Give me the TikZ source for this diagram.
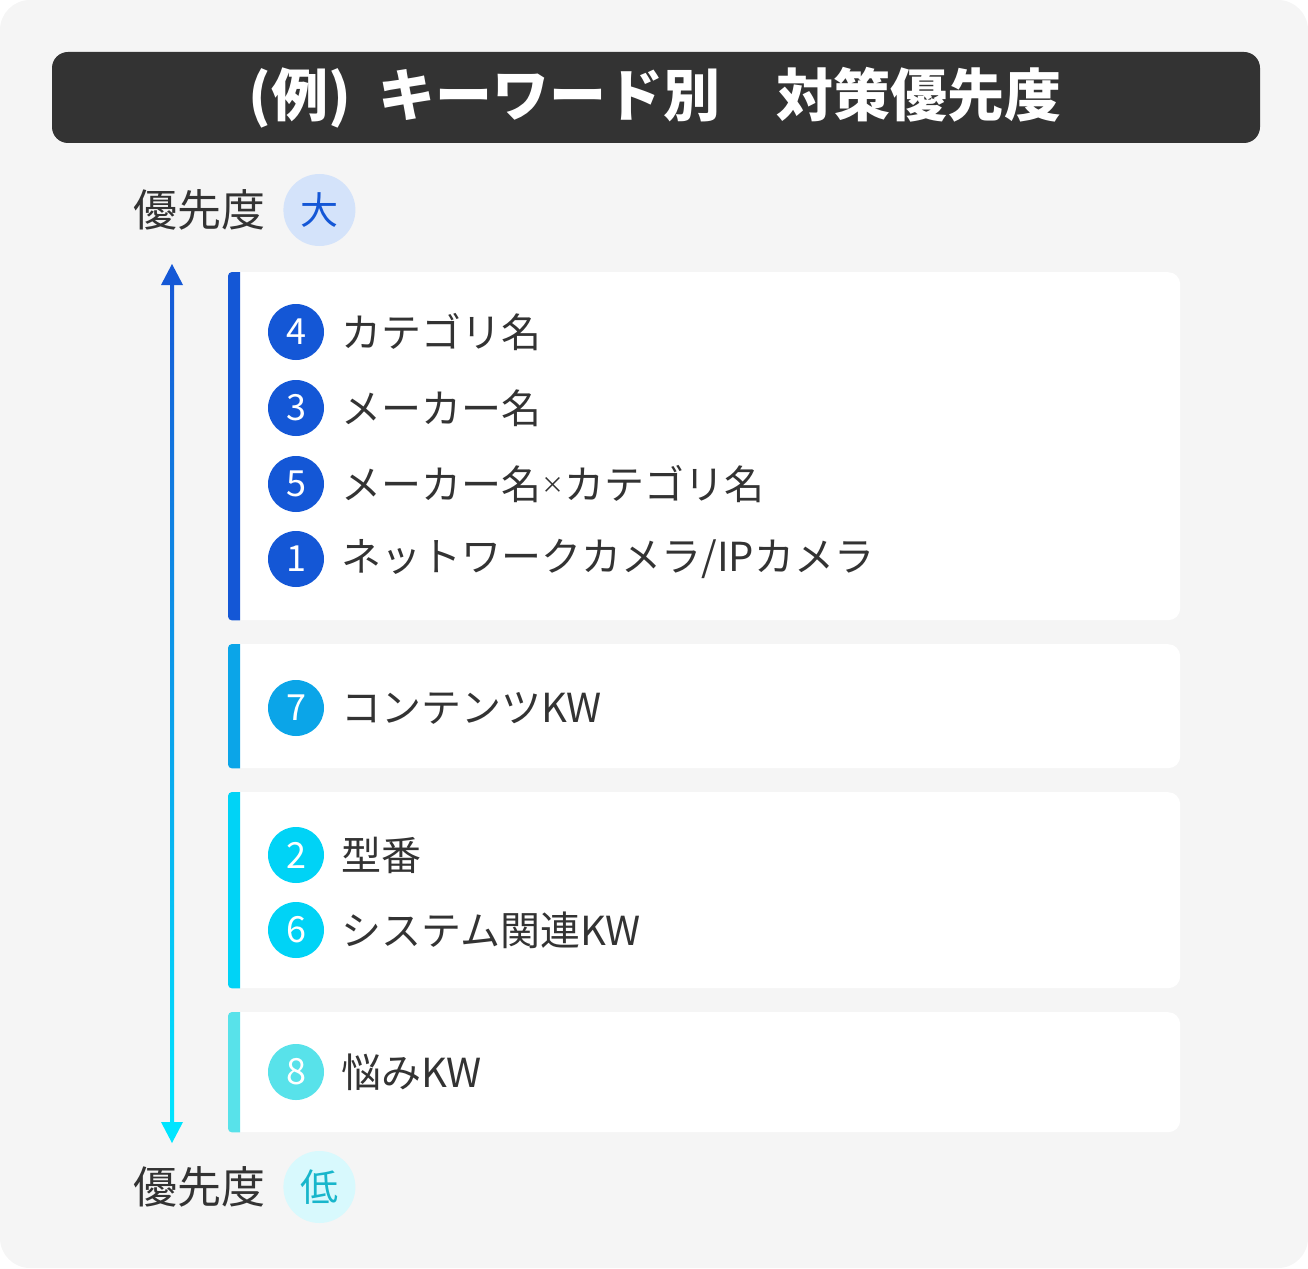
\documentclass[tikz,border=0pt]{standalone}
\usepackage{fontspec}
\setmainfont{Noto Sans CJK JP}
\usetikzlibrary{positioning}
\definecolor{ink}{HTML}{333333}
\definecolor{paper}{HTML}{F5F5F5}
\definecolor{kwblue}{HTML}{1457D6}
\definecolor{kwsky}{HTML}{0BA5E8}
\definecolor{kwcyan}{HTML}{00D3F6}
\definecolor{kwaqua}{HTML}{58E2EA}
\definecolor{arrowtop}{HTML}{1558D6}
\definecolor{arrowbot}{HTML}{00E5FF}
\definecolor{bigfill}{HTML}{D4E3FA}
\definecolor{lowfill}{HTML}{D8F9FD}
\definecolor{lowtext}{HTML}{18B6CB}

\begin{document}
\begin{tikzpicture}[x=1pt, y=-1pt,
    card/.style={rectangle, draw=none, rounded corners=12pt, fill=white, anchor=north west,
        minimum width=952pt, inner sep=0pt},
    bar/.style={fill=#1, rounded corners=4pt},
    badge/.style={circle, draw=none, fill=#1, minimum size=56pt, inner sep=0pt, text=white,
        font=\fontsize{36}{36}\selectfont},
    item/.style={anchor=west, inner sep=0pt, text=ink, font=\fontsize{40}{48}\selectfont},
    prio/.style={inner sep=0pt, text=ink, font=\fontsize{44}{52}\selectfont},
    tag/.style={circle, draw=none, fill=#1, minimum size=72pt, inner sep=0pt,
        font=\fontsize{38}{38}\selectfont}
]
\useasboundingbox (0,0) rectangle (1308,1268);
\fill[paper, rounded corners=30pt] (0,0) rectangle (1308,1268);

% title
\fill[ink, rounded corners=16pt] (52,52) rectangle (1260,143);
\node [text=white, font=\fontsize{57}{60}\selectfont\bfseries] (Title) at (655,98)
    {(例)\hspace{28pt}キーワード別\hspace{56pt}対策優先度};

% priority scale
\node [prio] (HighText) at (199,210) {優先度};
\node [tag=bigfill, text=kwblue, right=18pt of HighText] (HighTag) {大};
\node [prio] (LowText) at (199,1187) {優先度};
\node [tag=lowfill, text=lowtext, right=18pt of LowText] (LowTag) {低};

\coordinate (ArrowTop) at (172,264);
\coordinate (ArrowBot) at (172,1143);
\shade [top color=arrowtop, bottom color=arrowbot]
    ([xshift=-2pt,yshift=-18pt]ArrowTop) rectangle ([xshift=2pt,yshift=18pt]ArrowBot);
\fill [arrowtop] (ArrowTop) -- ++(-11,21) -- ++(22,0) -- cycle;
\fill [arrowbot] (ArrowBot) -- ++(-11,-21) -- ++(22,0) -- cycle;

% cards
\node [card, minimum height=348pt] (CardA) at (228,272) {};
\node [card, minimum height=124pt] (CardB) at (228,644) {};
\node [card, minimum height=196pt] (CardC) at (228,792) {};
\node [card, minimum height=120pt] (CardD) at (228,1012) {};

% left bars, square on the inner side
\begin{scope}
    \clip (CardA.north west) rectangle ([xshift=12pt]CardA.south west);
    \fill [bar=kwblue] (CardA.north west) rectangle ([xshift=24pt]CardA.south west);
\end{scope}
\begin{scope}
    \clip (CardB.north west) rectangle ([xshift=12pt]CardB.south west);
    \fill [bar=kwsky] (CardB.north west) rectangle ([xshift=24pt]CardB.south west);
\end{scope}
\begin{scope}
    \clip (CardC.north west) rectangle ([xshift=12pt]CardC.south west);
    \fill [bar=kwcyan] (CardC.north west) rectangle ([xshift=24pt]CardC.south west);
\end{scope}
\begin{scope}
    \clip (CardD.north west) rectangle ([xshift=12pt]CardD.south west);
    \fill [bar=kwaqua] (CardD.north west) rectangle ([xshift=24pt]CardD.south west);
\end{scope}

% keywords
\node [badge=kwblue] (Kw4) at (296,332) {4};
\node [item, right=17pt of Kw4] {カテゴリ名};
\node [badge=kwblue] (Kw3) at (296,408) {3};
\node [item, right=17pt of Kw3] {メーカー名};
\node [badge=kwblue] (Kw5) at (296,484) {5};
\node [item, right=17pt of Kw5] {メーカー名{\fontsize{23}{23}\selectfont\raisebox{6pt}{×}}カテゴリ名};
\node [badge=kwblue] (Kw1) at (296,559) {1};
\node [item, right=17pt of Kw1] {ネットワークカメラ/IPカメラ};

\node [badge=kwsky] (Kw7) at (296,708) {7};
\node [item, right=17pt of Kw7] {コンテンツKW};

\node [badge=kwcyan] (Kw2) at (296,855) {2};
\node [item, right=17pt of Kw2] {型番};
\node [badge=kwcyan] (Kw6) at (296,930) {6};
\node [item, right=17pt of Kw6] {システム関連KW};

\node [badge=kwaqua] (Kw8) at (296,1072) {8};
\node [item, right=17pt of Kw8] {悩みKW};

\end{tikzpicture}
\end{document}
